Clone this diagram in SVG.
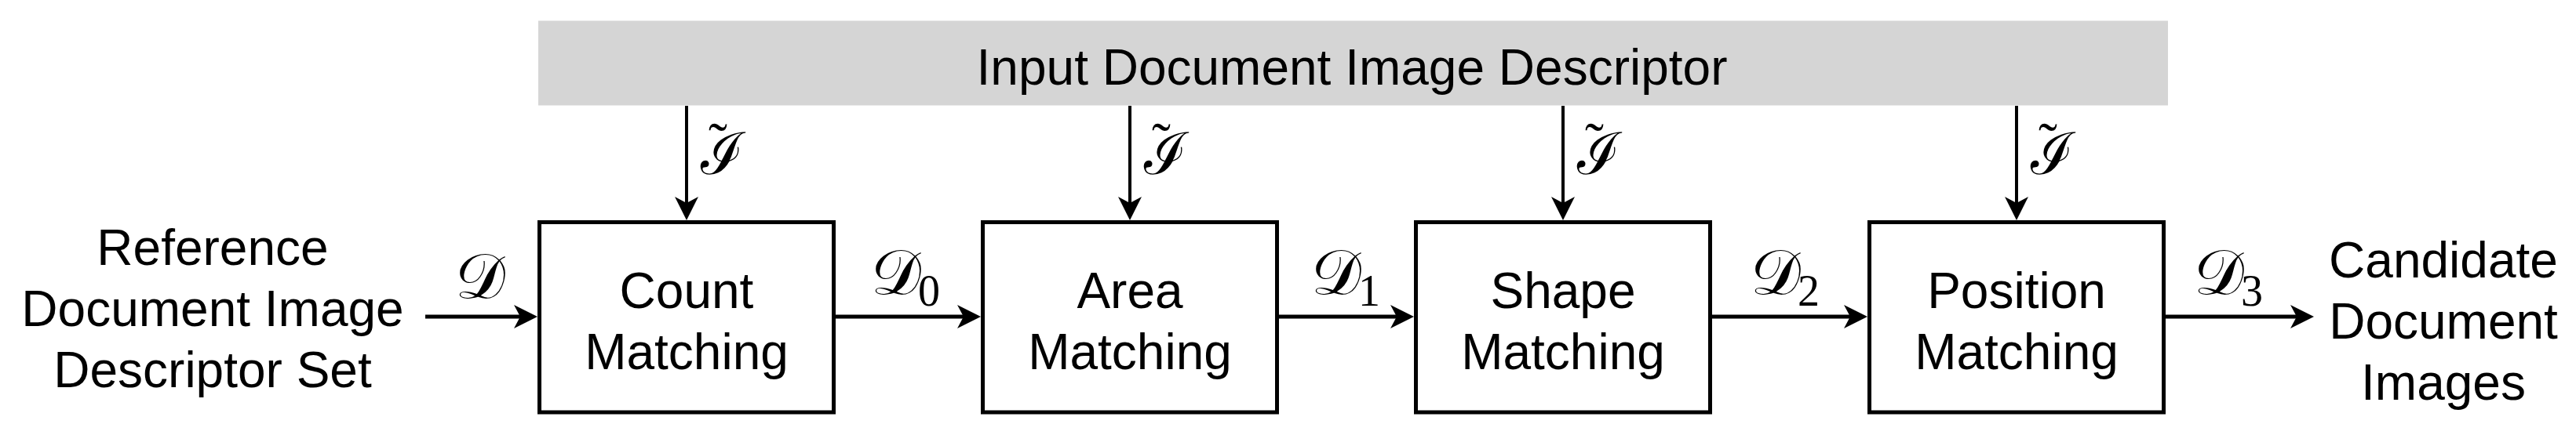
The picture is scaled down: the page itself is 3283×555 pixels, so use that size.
<svg xmlns="http://www.w3.org/2000/svg" width="3283" height="555" viewBox="0 0 3283 555">
  <style>
    .lbl { font-family: "Liberation Sans", Arial, sans-serif; font-size: 64px; fill: #000; text-anchor: middle; }
    .box { fill: #fff; stroke: #000; stroke-width: 5; }
    .bar { fill: #d5d5d5; stroke: none; }
    .conn { stroke: #000; fill: none; }
    .h { stroke-width: 5; }
    .v { stroke-width: 4; }
    .cal { font-family: "DejaVu Serif", "Liberation Serif", serif; font-size: 80px; fill: #000; }
    .cali { font-family: "DejaVu Serif", "Liberation Serif", serif; font-size: 74px; fill: #000; }
    .sub { font-family: "Liberation Serif", "DejaVu Serif", serif; font-size: 56px; fill: #000; }
    .tl { font-family: "Liberation Serif", "DejaVu Serif", serif; font-size: 72px; }
  </style>
  <defs>
    <marker id="ah" viewBox="0 0 30 30" refX="18" refY="15" markerWidth="30" markerHeight="30" markerUnits="userSpaceOnUse" orient="auto">
      <path d="M0,0 L30,15 L0,30 L8,15 Z" fill="#000"/>
    </marker>
  </defs>

  <g id="input-descriptor">
    <rect class="bar" x="686" y="26.5" width="2077" height="108"/>
    <text class="lbl" x="1723" y="108">Input Document Image Descriptor</text>
  </g>

  <g id="reference-set">
    <text class="lbl" x="271" y="338">Reference</text>
    <text class="lbl" x="271" y="416">Document Image</text>
    <text class="lbl" x="271" y="494">Descriptor Set</text>
  </g>

  <g id="count-matching">
    <rect class="box" x="687.5" y="283.5" width="375" height="242.5"/>
    <text class="lbl" x="875" y="393">Count</text>
    <text class="lbl" x="875" y="471">Matching</text>
  </g>

  <g id="area-matching">
    <rect class="box" x="1252.5" y="283.5" width="375" height="242.5"/>
    <text class="lbl" x="1440" y="393">Area</text>
    <text class="lbl" x="1440" y="471">Matching</text>
  </g>

  <g id="shape-matching">
    <rect class="box" x="1804.5" y="283.5" width="375" height="242.5"/>
    <text class="lbl" x="1992" y="393">Shape</text>
    <text class="lbl" x="1992" y="471">Matching</text>
  </g>

  <g id="position-matching">
    <rect class="box" x="2382.5" y="283.5" width="375" height="242.5"/>
    <text class="lbl" x="2570" y="393">Position</text>
    <text class="lbl" x="2570" y="471">Matching</text>
  </g>

  <g id="candidates">
    <text class="lbl" x="3114" y="354">Candidate</text>
    <text class="lbl" x="3114" y="432">Document</text>
    <text class="lbl" x="3114" y="510">Images</text>
  </g>

  <g id="connectors">
    <line class="conn h" x1="542" y1="404" x2="673" y2="404" marker-end="url(#ah)"/>
    <line class="conn h" x1="1065" y1="404" x2="1238" y2="404" marker-end="url(#ah)"/>
    <line class="conn h" x1="1630" y1="404" x2="1790" y2="404" marker-end="url(#ah)"/>
    <line class="conn h" x1="2182" y1="404" x2="2368" y2="404" marker-end="url(#ah)"/>
    <line class="conn h" x1="2760" y1="404" x2="2937" y2="404" marker-end="url(#ah)"/>

    <line class="conn v" x1="875" y1="135" x2="875" y2="269" marker-end="url(#ah)"/>
    <line class="conn v" x1="1440" y1="135" x2="1440" y2="269" marker-end="url(#ah)"/>
    <line class="conn v" x1="1992" y1="135" x2="1992" y2="269" marker-end="url(#ah)"/>
    <line class="conn v" x1="2570" y1="135" x2="2570" y2="269" marker-end="url(#ah)"/>

    <text class="cal" x="580" y="380">𝒟</text>
    <text class="cal" x="1110" y="375">𝒟</text><text class="sub" x="1170" y="390">0</text>
    <text class="cal" x="1671" y="375">𝒟</text><text class="sub" x="1731" y="390">1</text>
    <text class="cal" x="2231" y="375">𝒟</text><text class="sub" x="2291" y="390">2</text>
    <text class="cal" x="2796" y="375">𝒟</text><text class="sub" x="2856" y="390">3</text>

    <text class="cali" x="893" y="222">ℐ<tspan class="tl" x="903" y="206">˜</tspan></text>
    <text class="cali" x="1458" y="222">ℐ<tspan class="tl" x="1468" y="206">˜</tspan></text>
    <text class="cali" x="2010" y="222">ℐ<tspan class="tl" x="2020" y="206">˜</tspan></text>
    <text class="cali" x="2588" y="222">ℐ<tspan class="tl" x="2598" y="206">˜</tspan></text>
  </g>
</svg>
